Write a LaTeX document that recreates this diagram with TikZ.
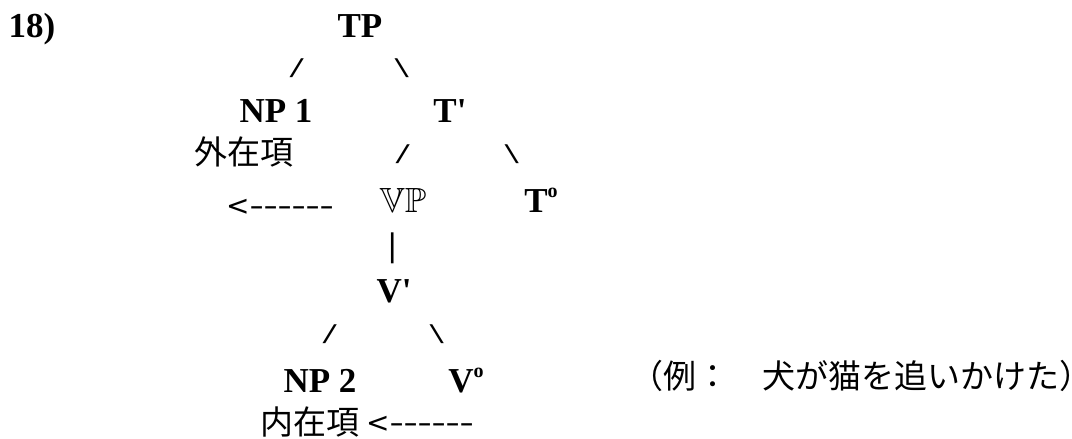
\documentclass[tikz,border=0pt]{standalone}
\usepackage{fontspec}
\usepackage{amssymb}
\usepackage{graphicx}
\newfontfamily\lib[Ligatures=TeXOff]{Liberation Serif}
\newfontfamily\jp{Noto Sans CJK JP}
\newfontfamily\mono{DejaVu Sans Mono}
\newfontfamily\dvs{DejaVu Sans}
\newcommand\mydash{\makebox[14pt][c]{\scalebox{1.45}[1]{-}}}
\newcommand\myslash{\scalebox{1.3}[1]{/}}
\newcommand\mybslash{\scalebox{1.3}[1]{\textbackslash}}
\newcommand\supo{\raisebox{15pt}{\fontsize{20}{20}\selectfont o}}
\tikzset{
  lab/.style={inner sep=0pt, anchor=base, font=\lib\bfseries\fontsize{35}{40}\selectfont},
  bblab/.style={inner sep=0pt, anchor=base, font=\fontsize{35}{40}\selectfont},
  jptext/.style={inner sep=0pt, font=\jp\fontsize{33}{38}\selectfont},
  branch/.style={inner sep=0pt, font=\mono\fontsize{23}{26}\selectfont},
  vline/.style={inner sep=0pt, font=\dvs\fontsize{31}{34}\selectfont},
  arrowtext/.style={inner sep=0pt, anchor=base west, font=\dvs\fontsize{28}{30}\selectfont},
}
\begin{document}
\begin{tikzpicture}[x=1pt,y=-1pt]
\useasboundingbox (0,0) rectangle (1072,439);
\node[lab] (num) at (32,37) {18)};
\node[lab] (tp) at (360,37) {TP};
\node[branch] (s1) at (297,68) {\myslash};
\node[branch] (b1) at (402,68) {\mybslash};
\node[lab] (np1) at (276,122) {NP 1};
\node[lab] (tbar) at (450,122) {T'};
\node[jptext] (ext) at (244,152) {外在項};
\node[branch] (s2) at (403,154) {\myslash};
\node[branch] (b2) at (512,154) {\mybslash};
\node[arrowtext] (arr1) at (226,215) {<\mydash\mydash\mydash\mydash\mydash\mydash};
\node[bblab] (vp) at (403,212) {$\mathbb{VP}$};
\node[lab] (t0) at (541,212) {T\supo};
\node[vline] (bar) at (393,248) {|};
\node[lab] (vbar) at (394,302) {V'};
\node[branch] (s3) at (330,334) {\myslash};
\node[branch] (b3) at (437,334) {\mybslash};
\node[lab] (np2) at (320,392) {NP 2};
\node[lab] (v0) at (466,392) {V\supo};
\node[jptext, anchor=west] (ex) at (630,376) {（例：　犬が猫を追いかけた）\kern-0.75em};
\node[jptext] (int) at (310,422) {内在項};
\node[arrowtext] (arr2) at (366,432.5) {<\mydash\mydash\mydash\mydash\mydash\mydash};
\end{tikzpicture}
\end{document}
